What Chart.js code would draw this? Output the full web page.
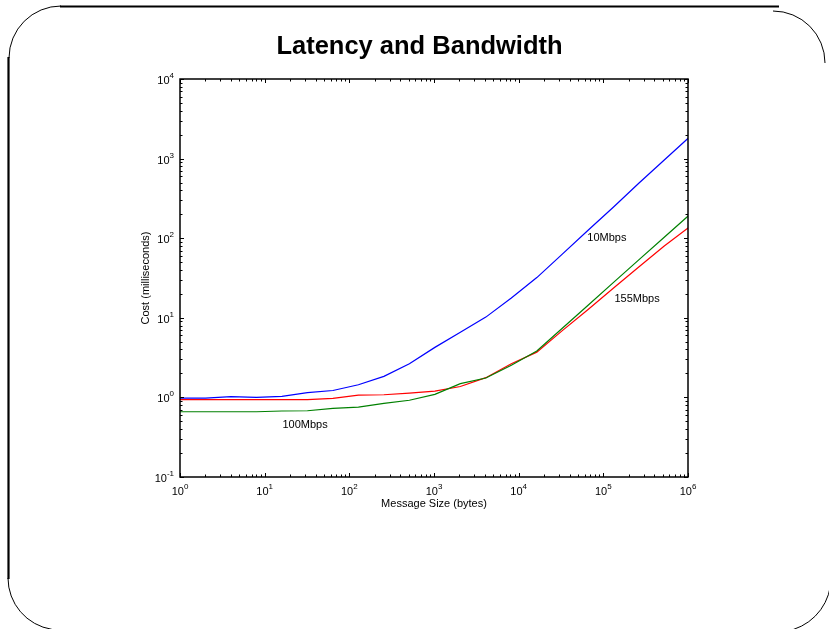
<!DOCTYPE html>
<html>
<head>
<meta charset="utf-8">
<script src="https://cdn.jsdelivr.net/npm/chart.js@4/dist/chart.umd.min.js"></script>
<style>
  html, body { margin: 0; padding: 0; background: #ffffff; }
  #wrap { width: 829px; height: 629px; position: relative; }
  canvas { display: block; }
</style>
</head>
<body>
<div id="wrap"><canvas id="c" width="829" height="629"></canvas></div>
<script>
// ---- data ----
const chartTitle = "Latency and Bandwidth";
const xAxisTitle = "Message Size (bytes)";
const yAxisTitle = "Cost (milliseconds)";
const messageSizes = [1, 2, 4, 8, 16, 32, 64, 128, 256, 512, 1024, 2048, 4096, 8192, 16384, 32768, 65536, 131072, 262144, 524288, 1048576];
const cost10Mbps  = [0.98, 0.98, 1.02, 1.0, 1.03, 1.15, 1.22, 1.44, 1.84, 2.65, 4.25, 6.6, 10.2, 17.7, 32, 63, 125, 245, 490, 960, 1880];
const cost100Mbps = [0.66, 0.66, 0.66, 0.66, 0.675, 0.68, 0.73, 0.755, 0.84, 0.92, 1.09, 1.49, 1.75, 2.53, 3.83, 7.4, 14.3, 27.7, 53.5, 103, 198];
const cost155Mbps = [0.935, 0.935, 0.935, 0.935, 0.935, 0.94, 0.97, 1.07, 1.08, 1.13, 1.2, 1.37, 1.77, 2.65, 3.7, 6.9, 12.6, 23.5, 43.5, 80, 140];
const seriesNames = ["10Mbps", "100Mbps", "155Mbps"];
const seriesColors = ["#0000ff", "#008000", "#ff0000"];
const xTickExponents = [0, 1, 2, 3, 4, 5, 6];
const yTickExponents = [-1, 0, 1, 2, 3, 4];
// label anchors in data coordinates [x, y]
const seriesLabelAnchors = [[110000, 100], [30, 0.457], [250000, 17]];

const FONT = "'Liberation Sans', Arial, Helvetica, sans-serif";

function pts(vals) { return messageSizes.map((s, i) => ({ x: s, y: vals[i] })); }

const decor = {
  id: 'decor',
  afterDraw(chart) {
    const ctx = chart.ctx;
    const xs = chart.scales.x, ys = chart.scales.y;
    const a = chart.chartArea;
    ctx.save();
    // plot frame
    ctx.strokeStyle = '#000';
    ctx.lineWidth = 1.5;
    ctx.strokeRect(a.left, a.top, a.right - a.left, a.bottom - a.top);
    // ticks
    ctx.lineWidth = 1;
    ctx.beginPath();
    for (let e = xTickExponents[0]; e <= xTickExponents[xTickExponents.length - 1]; e++) {
      for (let m = 1; m <= 9; m++) {
        const v = m * Math.pow(10, e);
        if (v > Math.pow(10, xTickExponents[xTickExponents.length - 1])) break;
        const px = Math.round(xs.getPixelForValue(v)) + 0.5;
        const len = m === 1 ? 4 : 2.5;
        ctx.moveTo(px, a.bottom); ctx.lineTo(px, a.bottom - len);
        ctx.moveTo(px, a.top); ctx.lineTo(px, a.top + len);
      }
    }
    for (let e = yTickExponents[0]; e <= yTickExponents[yTickExponents.length - 1]; e++) {
      for (let m = 1; m <= 9; m++) {
        const v = m * Math.pow(10, e);
        if (v > Math.pow(10, yTickExponents[yTickExponents.length - 1])) break;
        const py = Math.round(ys.getPixelForValue(v)) + 0.5;
        const len = m === 1 ? 4 : 2.5;
        ctx.moveTo(a.left, py); ctx.lineTo(a.left + len, py);
        ctx.moveTo(a.right, py); ctx.lineTo(a.right - len, py);
      }
    }
    ctx.stroke();

    // tick labels
    ctx.fillStyle = '#000';
    ctx.textBaseline = 'alphabetic';
    const baseFont = '11px ' + FONT, supFont = '8px ' + FONT;
    function measure(txt, f) { ctx.font = f; return ctx.measureText(txt).width; }
    xTickExponents.forEach(e => {
      const px = xs.getPixelForValue(Math.pow(10, e));
      const w1 = measure('10', baseFont), w2 = measure(String(e), supFont);
      const x0 = px - (w1 + w2) / 2;
      ctx.textAlign = 'left';
      ctx.font = baseFont; ctx.fillText('10', x0, a.bottom + 18);
      ctx.font = supFont; ctx.fillText(String(e), x0 + w1, a.bottom + 12);
    });
    yTickExponents.forEach(e => {
      const py = ys.getPixelForValue(Math.pow(10, e));
      const w1 = measure('10', baseFont), w2 = measure(String(e), supFont);
      const xr = a.left - 6;
      ctx.textAlign = 'left';
      ctx.font = baseFont; ctx.fillText('10', xr - w1 - w2, py + 5);
      ctx.font = supFont; ctx.fillText(String(e), xr - w2, py - 1);
    });

    // axis titles
    ctx.font = '11px ' + FONT;
    ctx.textAlign = 'center';
    ctx.textBaseline = 'middle';
    ctx.fillText(xAxisTitle, (a.left + a.right) / 2, a.bottom + 27);
    ctx.save();
    ctx.translate(a.left - 34, (a.top + a.bottom) / 2);
    ctx.rotate(-Math.PI / 2);
    ctx.fillText(yAxisTitle, 0, 0);
    ctx.restore();

    // series labels
    seriesNames.forEach((n, i) => {
      const [vx, vy] = seriesLabelAnchors[i];
      ctx.fillText(n, xs.getPixelForValue(vx), ys.getPixelForValue(vy));
    });

    // title
    ctx.font = 'bold 25.5px ' + FONT;
    ctx.textBaseline = 'alphabetic';
    ctx.fillText(chartTitle, 419.5, 54);

    // slide frame
    ctx.lineWidth = 2.2;
    ctx.beginPath();
    ctx.moveTo(60, 6.5); ctx.lineTo(779, 6.5);
    ctx.moveTo(8.5, 57); ctx.lineTo(8.5, 579);
    ctx.stroke();
    ctx.lineWidth = 1;
    ctx.beginPath(); ctx.arc(61, 58, 52, Math.PI, 1.5 * Math.PI); ctx.stroke();
    ctx.beginPath(); ctx.arc(60, 578, 52, 0.55 * Math.PI, Math.PI); ctx.stroke();
    ctx.beginPath(); ctx.arc(773, 63, 52, -0.5 * Math.PI, 0); ctx.stroke();
    ctx.beginPath(); ctx.arc(777, 578, 54, 0.05 * Math.PI, 0.45 * Math.PI); ctx.stroke();
    ctx.restore();
  }
};

new Chart(document.getElementById('c'), {
  type: 'line',
  data: {
    datasets: [
      { label: seriesNames[0], data: pts(cost10Mbps),  borderColor: seriesColors[0] },
      { label: seriesNames[1], data: pts(cost100Mbps), borderColor: seriesColors[1] },
      { label: seriesNames[2], data: pts(cost155Mbps), borderColor: seriesColors[2] }
    ]
  },
  options: {
    responsive: false,
    animation: false,
    devicePixelRatio: 1,
    layout: { padding: { left: 180, top: 79, right: 141, bottom: 152 } },
    elements: {
      line: { borderWidth: 1.2, tension: 0, fill: false },
      point: { radius: 0, hoverRadius: 0 }
    },
    plugins: { legend: { display: false }, title: { display: false }, tooltip: { enabled: false } },
    scales: {
      x: { type: 'logarithmic', min: 1, max: 1e6, display: false },
      y: { type: 'logarithmic', min: 0.1, max: 1e4, display: false }
    }
  },
  plugins: [decor]
});
</script>
</body>
</html>
